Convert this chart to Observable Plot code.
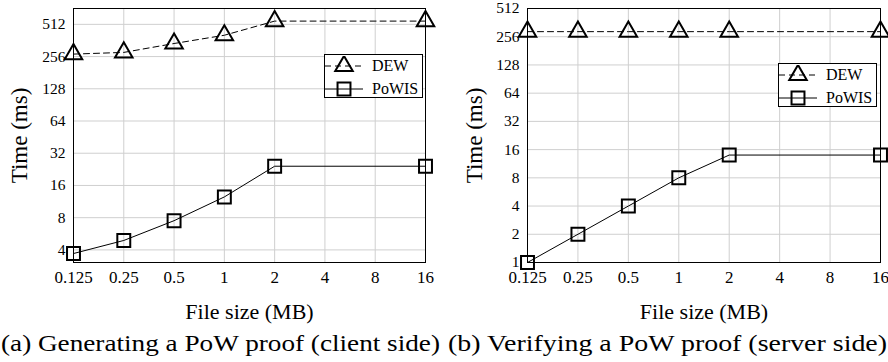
<!DOCTYPE html>
<html>
<head>
<meta charset="utf-8">
<script src="https://cdn.jsdelivr.net/npm/d3@7"></script>
<script src="https://cdn.jsdelivr.net/npm/@observablehq/plot@0.6"></script>
<style>
  html, body { margin: 0; padding: 0; background: white; }
  body { width: 888px; height: 362px; overflow: hidden; font-family: "Liberation Serif", "Times New Roman", Tinos, "DejaVu Serif", serif; }
  #wrap { position: relative; width: 888px; height: 362px; }
  #charts { display: flex; flex-direction: row; }
  .cell { position: relative; width: 444px; height: 326px; }
  svg, svg text { font-family: "Liberation Serif", "Times New Roman", Tinos, "DejaVu Serif", serif !important; }
  svg g[aria-label="x-axis tick label"] { font-size: 17px; }
  svg g[aria-label="y-axis tick label"] { font-size: 15.5px; }
  svg g[aria-label="x-axis label"] { font-size: 22px; }
  svg g[aria-label="y-axis label"] { font-size: 23px; }
  .legend { position: absolute; width: 97px; height: 42px; border: 1px solid black; background: white; font-size: 16px; }
  .legend .row { position: absolute; left: 0; height: 20px; display: flex; align-items: center; }
  .legend .row svg { display: block; }
  .legend .row span { margin-left: 9px; line-height: 20px; }
  #captions { position: absolute; left: 0; top: 331px; width: 888px; height: 30px; font-size: 23px; }
  #captions span { position: absolute; top: 0; white-space: nowrap; display: inline-block; transform-origin: 0 50%; line-height: 26px; }
</style>
</head>
<body>
<div id="wrap">
  <div id="charts">
    <div class="cell" id="a"></div>
    <div class="cell" id="b"></div>
  </div>
  <div id="captions">
    <span id="capA">(a) Generating a PoW proof (client side)</span>
    <span id="capB">(b) Verifying a PoW proof (server side)</span>
  </div>
</div>
<script>
// ---- data ----
const fileSizes = [0.125, 0.25, 0.5, 1, 2, 16];
const xTicks = [0.125, 0.25, 0.5, 1, 2, 4, 8, 16];
const seriesNames = ["DEW", "PoWIS"];

// (a) Generating a PoW proof (client side), time in ms
const genDEW = [270, 280, 339, 405, 549, 549];
const genPoWIS = [3.7, 4.9, 7.5, 12.5, 24.2, 24.2];
const genYTicks = [4, 8, 16, 32, 64, 128, 256, 512];

// (b) Verifying a PoW proof (server side), time in ms
const verDEW = [290, 290, 290, 290, 290, 290];
const verPoWIS = [1.0, 2, 4, 8, 14, 14];
const verYTicks = [1, 2, 4, 8, 16, 32, 64, 128, 256, 512];

const FONT = '"Liberation Serif", "Times New Roman", Tinos, "DejaVu Serif", serif';

function makeChart({dew, powis, yTicks, yDomain, marginLeft, marginRight, yLabelOffset}) {
  const dewRows = fileSizes.map((s, i) => ({size: s, time: dew[i]}));
  const powRows = fileSizes.map((s, i) => ({size: s, time: powis[i]}));
  return Plot.plot({
    width: 444,
    height: 326,
    marginTop: 8,
    marginBottom: 64,
    marginLeft,
    marginRight,
    style: {fontFamily: FONT, fontSize: "16px", color: "black", background: "transparent", overflow: "visible"},
    x: {type: "log", base: 2, domain: [0.125, 16]},
    y: {type: "log", base: 2, domain: yDomain},
    marks: [
      Plot.ruleX(xTicks, {x: d => d, stroke: "#cfcfcf", strokeWidth: 1}),
      Plot.ruleY(yTicks, {y: d => d, stroke: "#cfcfcf", strokeWidth: 1}),
      Plot.axisX({ticks: xTicks, tickFormat: d => String(d), tickSize: 0, tickPadding: 8,
        label: "File size (MB)", labelAnchor: "center", labelArrow: "none", labelOffset: 56}),
      Plot.axisY({ticks: yTicks, tickFormat: d => String(d), tickSize: 0, tickPadding: 8,
        label: "Time (ms)", labelAnchor: "center", labelArrow: "none", labelOffset: yLabelOffset}),
      Plot.frame({stroke: "black", strokeWidth: 1}),
      Plot.line(dewRows, {x: "size", y: "time", stroke: "black", strokeWidth: 1, strokeDasharray: "6,4"}),
      Plot.line(powRows, {x: "size", y: "time", stroke: "black", strokeWidth: 1}),
      Plot.dot(dewRows, {x: "size", y: "time", symbol: "triangle", r: 6.5, stroke: "black", strokeWidth: 2, fill: "none"}),
      Plot.dot(powRows, {x: "size", y: "time", symbol: "square", r: 7.3, stroke: "black", strokeWidth: 2, fill: "none"})
    ]
  });
}

function makeLegend(left, top) {
  const div = document.createElement("div");
  div.className = "legend";
  div.style.left = left + "px";
  div.style.top = top + "px";
  const ns = "http://www.w3.org/2000/svg";
  seriesNames.forEach((name, i) => {
    const row = document.createElement("div");
    row.className = "row";
    row.style.top = (1 + i * 23) + "px";
    const svg = document.createElementNS(ns, "svg");
    svg.setAttribute("width", 38);
    svg.setAttribute("height", 20);
    const line = document.createElementNS(ns, "line");
    line.setAttribute("x1", 0); line.setAttribute("x2", 38);
    line.setAttribute("y1", 10); line.setAttribute("y2", 10);
    line.setAttribute("stroke", "black");
    if (name === "DEW") line.setAttribute("stroke-dasharray", "6,4");
    svg.appendChild(line);
    const sym = document.createElementNS(ns, "path");
    const symbol = name === "DEW" ? d3.symbolTriangle : d3.symbolSquare;
    const r = name === "DEW" ? 6.5 : 7.3;
    sym.setAttribute("d", d3.symbol(symbol, Math.PI * r * r)());
    sym.setAttribute("transform", "translate(19,10)");
    sym.setAttribute("fill", "none");
    sym.setAttribute("stroke", "black");
    sym.setAttribute("stroke-width", 2);
    svg.appendChild(sym);
    row.appendChild(svg);
    const span = document.createElement("span");
    span.textContent = name;
    row.appendChild(span);
    div.appendChild(row);
  });
  return div;
}

const a = document.getElementById("a");
a.appendChild(makeChart({dew: genDEW, powis: genPoWIS, yTicks: genYTicks, yDomain: [3.05, 720],
  marginLeft: 73, marginRight: 19, yLabelOffset: 63}));
a.appendChild(makeLegend(324, 54));

const b = document.getElementById("b");
b.appendChild(makeChart({dew: verDEW, powis: verPoWIS, yTicks: verYTicks, yDomain: [1, 512],
  marginLeft: 83, marginRight: 8, yLabelOffset: 62}));
b.appendChild(makeLegend(778 - 444, 63));

// stretch captions to the reference's span widths
function fitCaption(id, left, right) {
  const el = document.getElementById(id);
  const w = el.getBoundingClientRect().width;
  el.style.left = left + "px";
  el.style.transform = `scaleX(${(right - left) / w})`;
}
fitCaption("capA", 1, 440);
fitCaption("capB", 448, 887);
</script>
</body>
</html>
